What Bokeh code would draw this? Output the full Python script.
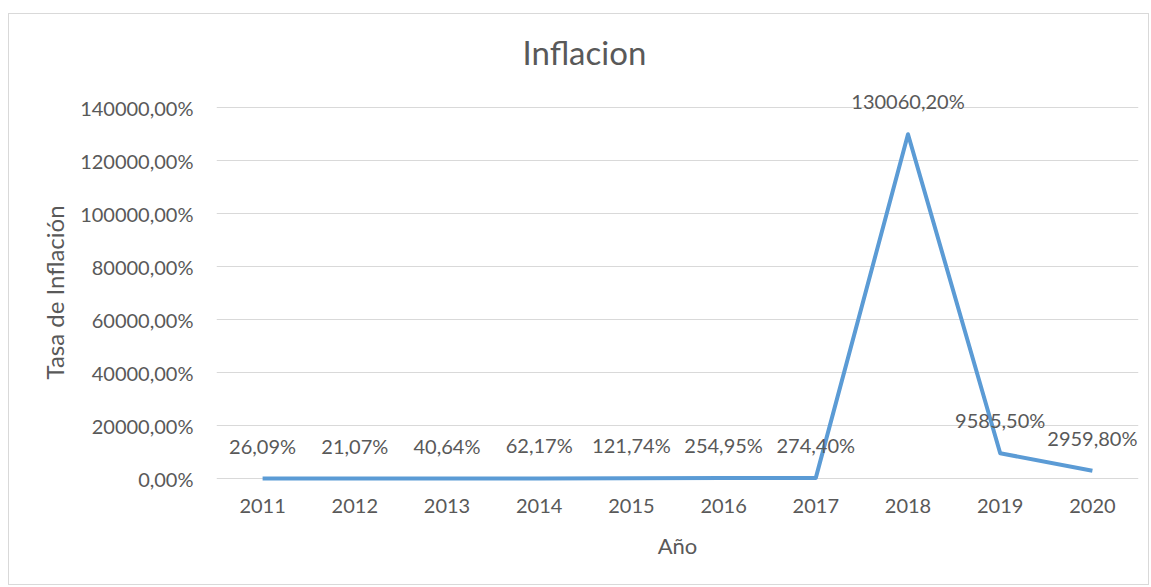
from bokeh.plotting import figure
from bokeh.models import ColumnDataSource, FactorRange, Range1d, FixedTicker, LabelSet
from bokeh.core.properties import value
from bokeh.embed import file_html
from bokeh.resources import INLINE

# ---- data ----
years = ["2011", "2012", "2013", "2014", "2015", "2016", "2017", "2018", "2019", "2020"]
inflation = [26.09, 21.07, 40.64, 62.17, 121.74, 254.95, 274.40, 130060.20, 9585.50, 2959.80]
y_ticks = [0, 20000, 40000, 60000, 80000, 100000, 120000, 140000]
y_tick_labels = ["0,00%", "20000,00%", "40000,00%", "60000,00%", "80000,00%",
                 "100000,00%", "120000,00%", "140000,00%"]
point_labels = [f"{v:.2f}".replace(".", ",") + "%" for v in inflation]

FONT = "Lato"
GREY = "#595959"
GRID = "#D9D9D9"
BLUE = "#5B9BD5"

src = ColumnDataSource(dict(x=years, y=inflation, lab=point_labels))

p = figure(width=1141, height=572, output_backend="svg", toolbar_location=None,
           x_range=FactorRange(*years), y_range=Range1d(-9400, 150000),
           min_border_left=207, min_border_right=12, min_border_top=67, min_border_bottom=83,
           title="Inflacion")
p.styles = {"border": "1px solid #D9D9D9", "margin-top": "13px", "margin-left": "8px"}
p.outline_line_color = None
p.background_fill_color = "white"
p.border_fill_color = "white"

p.title.align = "left"
p.title.offset = 306
p.title.standoff = 20
p.title.text_font = FONT
p.title.text_font_size = "33px"
p.title.text_font_style = "normal"
p.title.text_color = GREY

p.line(x="x", y="y", source=src, line_color=BLUE, line_width=4, line_join="round")

labels = LabelSet(x="x", y="y", text="lab", source=src, y_offset=33,
                  text_align="center", text_baseline="middle",
                  text_font=value(FONT), text_font_size="20px", text_color=GREY)
p.add_layout(labels)

# axes
p.yaxis.ticker = FixedTicker(ticks=y_ticks)
p.yaxis.major_label_overrides = dict(zip(y_ticks, y_tick_labels))
p.yaxis.axis_label = "Tasa de Inflación"
p.xaxis.axis_label = "Año"
for ax in (p.xaxis[0], p.yaxis[0]):
    ax.axis_line_color = None
    ax.major_tick_line_color = None
    ax.minor_tick_line_color = None
    ax.major_tick_in = 0
    ax.major_tick_out = 0
    ax.major_label_text_font = FONT
    ax.major_label_text_font_size = "20px"
    ax.major_label_text_color = GREY
    ax.axis_label_text_font = FONT
    ax.axis_label_text_font_size = "22px"
    ax.axis_label_text_font_style = "normal"
    ax.axis_label_text_color = GREY
p.yaxis.axis_label_text_font_size = "24px"
p.yaxis.major_label_standoff = 23
p.yaxis.axis_label_standoff = 8
p.xaxis.major_label_standoff = -5
p.xaxis.axis_label_standoff = 16

p.xgrid.grid_line_color = None
p.ygrid.ticker = FixedTicker(ticks=y_ticks)
p.ygrid.grid_line_color = GRID
p.ygrid.grid_line_width = 1

open("out.html", "w").write(file_html(p, INLINE))
